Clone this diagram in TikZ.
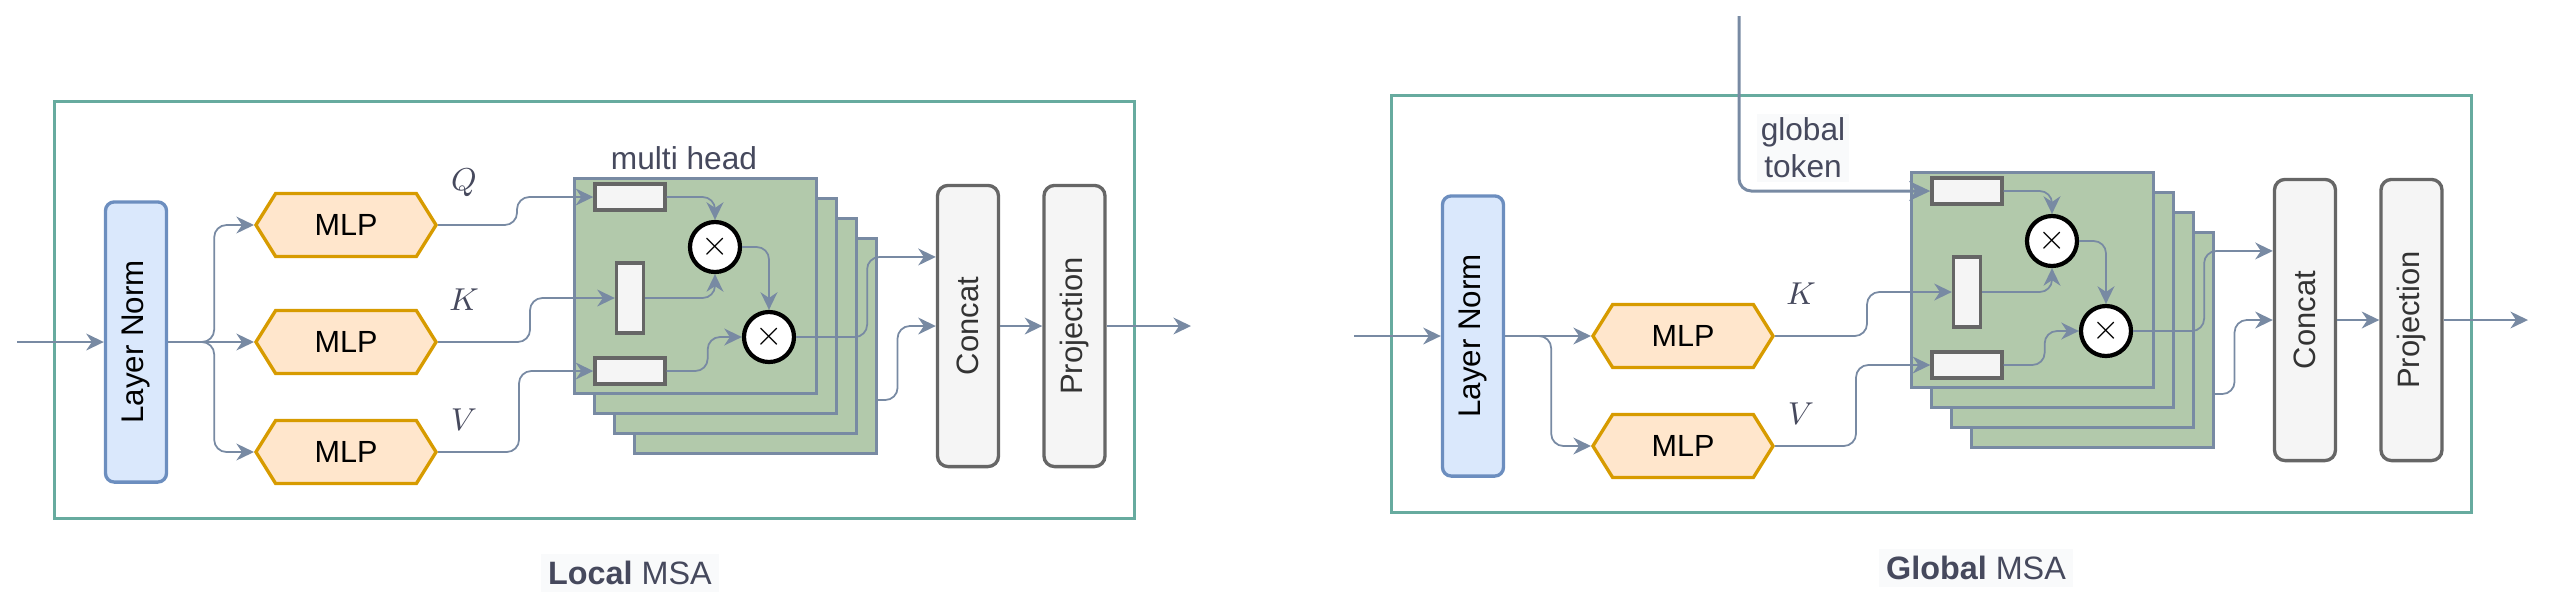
\documentclass[tikz,border=0pt]{standalone}
\usepackage{fontspec}
\setmainfont{Liberation Sans}
\usepackage{graphicx}
\usetikzlibrary{arrows.meta,shapes.symbols,calc}
\definecolor{cgrey}{HTML}{788AA3}
\definecolor{boxgreen}{HTML}{67AB9F}
\definecolor{lnfill}{HTML}{DAE8FC}
\definecolor{lnline}{HTML}{6C8EBF}
\definecolor{mlpfill}{HTML}{FFE6CC}
\definecolor{mlpline}{HTML}{D79B00}
\definecolor{sqfill}{HTML}{B2C9AB}
\definecolor{rfill}{HTML}{F5F5F5}
\definecolor{rline}{HTML}{666666}
\definecolor{txt}{HTML}{46495D}
\definecolor{txtdark}{HTML}{333333}
\definecolor{lblbg}{HTML}{F9FAFB}
\tikzset{
  conn/.style={draw=cgrey, line width=0.5pt, rounded corners=3.5pt,
    -{Stealth[length=5pt,width=4.8pt,inset=1.6pt]}},
  frame/.style={draw=boxgreen, line width=0.9pt, minimum width=10.79cm,
    minimum height=4.16cm, inner sep=0pt},
  lnbox/.style={draw=lnline, fill=lnfill, line width=0.95pt, rounded corners=2.5pt,
    minimum width=0.61cm, minimum height=2.8cm, inner sep=0pt,
    font=\fontsize{8.9}{10}\selectfont},
  mlp/.style={signal, signal to=east and west, signal pointer angle=116,
    draw=mlpline, fill=mlpfill, line width=0.95pt, minimum width=1.8cm,
    minimum height=0.63cm, inner sep=0pt, font=\fontsize{8.7}{10}\selectfont},
  head/.style={draw=cgrey, fill=sqfill, line width=0.85pt, minimum width=2.41cm,
    minimum height=2.14cm, inner sep=0pt},
  wide/.style={draw=rline, fill=rfill, line width=0.95pt, minimum width=0.70cm,
    minimum height=0.26cm, inner sep=0pt},
  tall/.style={draw=rline, fill=rfill, line width=0.95pt, minimum width=0.27cm,
    minimum height=0.70cm, inner sep=0pt},
  mul/.style={circle, draw=black, fill=white, line width=1.2pt, minimum size=0.50cm,
    inner sep=0pt, font=\fontsize{10}{10}\selectfont},
  bar/.style={draw=rline, fill=rfill, line width=0.95pt, rounded corners=3pt,
    minimum width=0.61cm, minimum height=2.81cm, inner sep=0pt, text=txtdark,
    font=\fontsize{8.8}{10}\selectfont},
  mathlbl/.style={text=txt, font=\fontsize{9.2}{10}\selectfont, inner sep=0pt},
  plaintxt/.style={text=txt, font=\fontsize{9}{10.5}\selectfont, inner sep=1pt},
  captxt/.style={text=txt, fill=lblbg, font=\fontsize{9.2}{11}\selectfont, inner sep=2pt},
}
\newcommand\msapanel[1]{%
  \node[frame] (#1box) at (594.5,310) {};
  \node[head] (#1h4) at (755.5,346) {};
  \node[head] (#1h3) at (735.5,326) {};
  \node[head] (#1h2) at (715.5,306) {};
  \node[head] (#1h1) at (695.5,286) {};
  \node[wide] (#1rq) at (630,197) {};
  \node[tall] (#1rk) at (630,298) {};
  \node[wide] (#1rv) at (630,371) {};
  \node[mul] (#1c1) at (715,247) {$\times$};
  \node[mul] (#1c2) at (769,337) {$\times$};
  \node[lnbox] (#1ln) at (136,342) {\rotatebox{90}{Layer Norm}};
  \node[mlp] (#1k) at (346,342) {MLP};
  \node[mlp] (#1v) at (346,452) {MLP};
  \node[bar] (#1cat) at (968,326) {\rotatebox{90}{Concat}};
  \node[bar] (#1proj) at (1074.5,326) {\rotatebox{90}{Projection}};
  \node[mathlbl] (#1kl) at (464,300) {$K$};
  \node[mathlbl] (#1vl) at (464,420) {$V$};
  \coordinate (#1in) at (17,342);
  \coordinate (#1out) at (1191,326);
  \draw[conn] (#1in) -- (#1ln.west);
  \draw[conn] (#1ln.east) -- (#1k.west);
  \draw[conn] (#1ln.east) -- ++(46,0) |- (#1v.west);
  \draw[conn] (#1k.east) -- ++(92,0) |- (#1rk.west);
  \draw[conn] (#1v.east) -- ++(81,0) |- (#1rv.west);
  \draw[conn] (#1rq.east) -| (#1c1.north);
  \draw[conn] (#1rk.east) -| (#1c1.south);
  \draw[conn] (#1c1.east) -| (#1c2.north);
  \draw[conn] (#1rv.east) -- ++(41,0) |- (#1c2.west);
  \draw[conn] (#1c2.east) -- ++(71,0) |- ([yshift=0.69cm]#1cat.west);
  \draw[conn] ([yshift=-0.54cm]#1h4.east) -- ++(20,0) |- (#1cat.west);
  \draw[conn] (#1cat.east) -- (#1proj.west);
  \draw[conn] (#1proj.east) -- (#1out);
}
\begin{document}
\begin{tikzpicture}[x=0.01cm, y=-0.01cm]
  \useasboundingbox (0,0) rectangle (2550,608);
  % Local MSA
  \msapanel{l}
  \node[mlp] (lq) at (346,225) {MLP};
  \node[mathlbl] (lql) at (464,183) {$Q$};
  \node[plaintxt] (lmh) at (684,158) {multi head};
  \draw[conn] (lln.east) -- ++(46,0) |- (lq.west);
  \draw[conn] (lq.east) -- ++(79,0) |- (lrq.west);
  \node[captxt] (lcap) at (630,573) {\textbf{Local} MSA};
  % Global MSA
  \begin{scope}[shift={(1337,-6)}]
    \msapanel{g}
  \end{scope}
  \coordinate (gtok) at (1739,16);
  \node[plaintxt, fill=lblbg, align=center] (gtl) at (1803,148) {global\\token};
  \draw[conn, line width=0.85pt, -{Stealth[length=6pt,width=5.6pt,inset=1.8pt]}]
    (gtok) |- (grq.west);
  \node[captxt] (gcap) at (1976,568) {\textbf{Global} MSA};
\end{tikzpicture}
\end{document}
